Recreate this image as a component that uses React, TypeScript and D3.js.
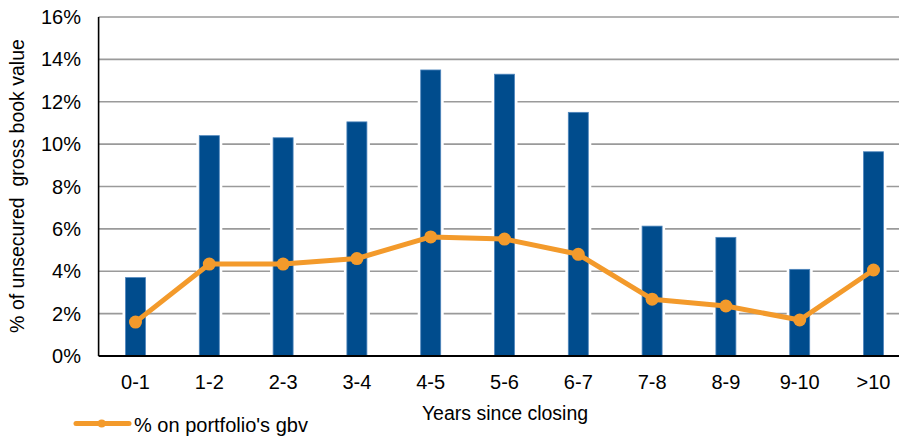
import React from "react";
import * as d3 from "d3";

const categories = ["0-1", "1-2", "2-3", "3-4", "4-5", "5-6", "6-7", "7-8", "8-9", "9-10", ">10"];
const unsecuredShare = [3.7, 10.4, 10.3, 11.05, 13.5, 13.3, 11.5, 6.13, 5.6, 4.09, 9.64];
const portfolioShare = [1.6, 4.34, 4.34, 4.6, 5.62, 5.52, 4.8, 2.68, 2.36, 1.7, 4.06];
const yTicks = [0, 2, 4, 6, 8, 10, 12, 14, 16];

const W = 899;
const H = 436;
const plot = { left: 98.6, top: 17, bottom: 356, right: 98.6 + 73.8 * 11 };
const FONT = "'Liberation Sans', Arial, sans-serif";
const BLUE = "#004C8D";
const ORANGE = "#F39A2B";

export default function App() {
  const x = d3
    .scaleBand<string>()
    .domain(categories)
    .range([plot.left, plot.right])
    .paddingInner(0)
    .paddingOuter(0);
  const y = d3.scaleLinear().domain([0, 16]).range([plot.bottom, plot.top]);
  const barW = 20;
  const cx = (c: string) => (x(c) as number) + x.bandwidth() / 2;

  const line = d3
    .line<number>()
    .x((_, i) => cx(categories[i]))
    .y((v) => y(v));

  return (
    <svg
      width={W}
      height={H}
      style={{ position: "absolute", left: 0, top: 0, display: "block", background: "#fff" }}
    >
      {/* horizontal gridlines */}
      {yTicks.slice(1).map((t) => (
        <line
          key={t}
          x1={plot.left}
          x2={W}
          y1={y(t)}
          y2={y(t)}
          stroke="#9a9a9a"
          strokeWidth={1.6}
        />
      ))}

      {/* bars with a white halo that breaks the gridlines */}
      {categories.map((c, i) => (
        <g key={c}>
          <rect
            x={cx(c) - barW / 2 - 3}
            y={y(unsecuredShare[i])}
            width={barW + 6}
            height={plot.bottom - y(unsecuredShare[i])}
            fill="#fff"
          />
          <rect
            x={cx(c) - barW / 2}
            y={y(unsecuredShare[i])}
            width={barW}
            height={plot.bottom - y(unsecuredShare[i])}
            fill={BLUE}
            stroke="#4f86bd"
            strokeWidth={0.8}
          />
        </g>
      ))}

      {/* axes */}
      <line x1={plot.left} x2={plot.left} y1={plot.top} y2={plot.bottom} stroke="#000" strokeWidth={1.6} />
      <line x1={plot.left} x2={W} y1={plot.bottom} y2={plot.bottom} stroke="#000" strokeWidth={2} />

      {/* line series */}
      <path d={line(portfolioShare) || ""} fill="none" stroke={ORANGE} strokeWidth={5} strokeLinejoin="round" />
      {portfolioShare.map((v, i) => (
        <circle key={i} cx={cx(categories[i])} cy={y(v)} r={6.5} fill={ORANGE} />
      ))}

      {/* y tick labels */}
      {yTicks.map((t) => (
        <text
          key={t}
          x={81}
          y={y(t) + 7}
          textAnchor="end"
          fontFamily={FONT}
          fontSize={20}
          fill="#000"
        >
          {t}%
        </text>
      ))}

      {/* x tick labels */}
      {categories.map((c) => (
        <text key={c} x={cx(c)} y={389} textAnchor="middle" fontFamily={FONT} fontSize={20} fill="#000">
          {c}
        </text>
      ))}

      {/* axis titles */}
      <text x={505} y={420} textAnchor="middle" fontFamily={FONT} fontSize={19.5} fill="#000">
        Years since closing
      </text>
      <text
        transform={`translate(24, 186) rotate(-90)`}
        textAnchor="middle"
        fontFamily={FONT}
        fontSize={19.5}
        fill="#000"
        style={{ whiteSpace: "pre" }}
      >
        {"% of unsecured  gross book value"}
      </text>

      {/* legend */}
      <line x1={76} x2={129} y1={423.5} y2={423.5} stroke={ORANGE} strokeWidth={5} strokeLinecap="round" />
      <circle cx={101.7} cy={423.5} r={4} fill={ORANGE} />
      <text x={134} y={432} fontFamily={FONT} fontSize={20} fill="#000">
        % on portfolio's gbv
      </text>
    </svg>
  );
}
